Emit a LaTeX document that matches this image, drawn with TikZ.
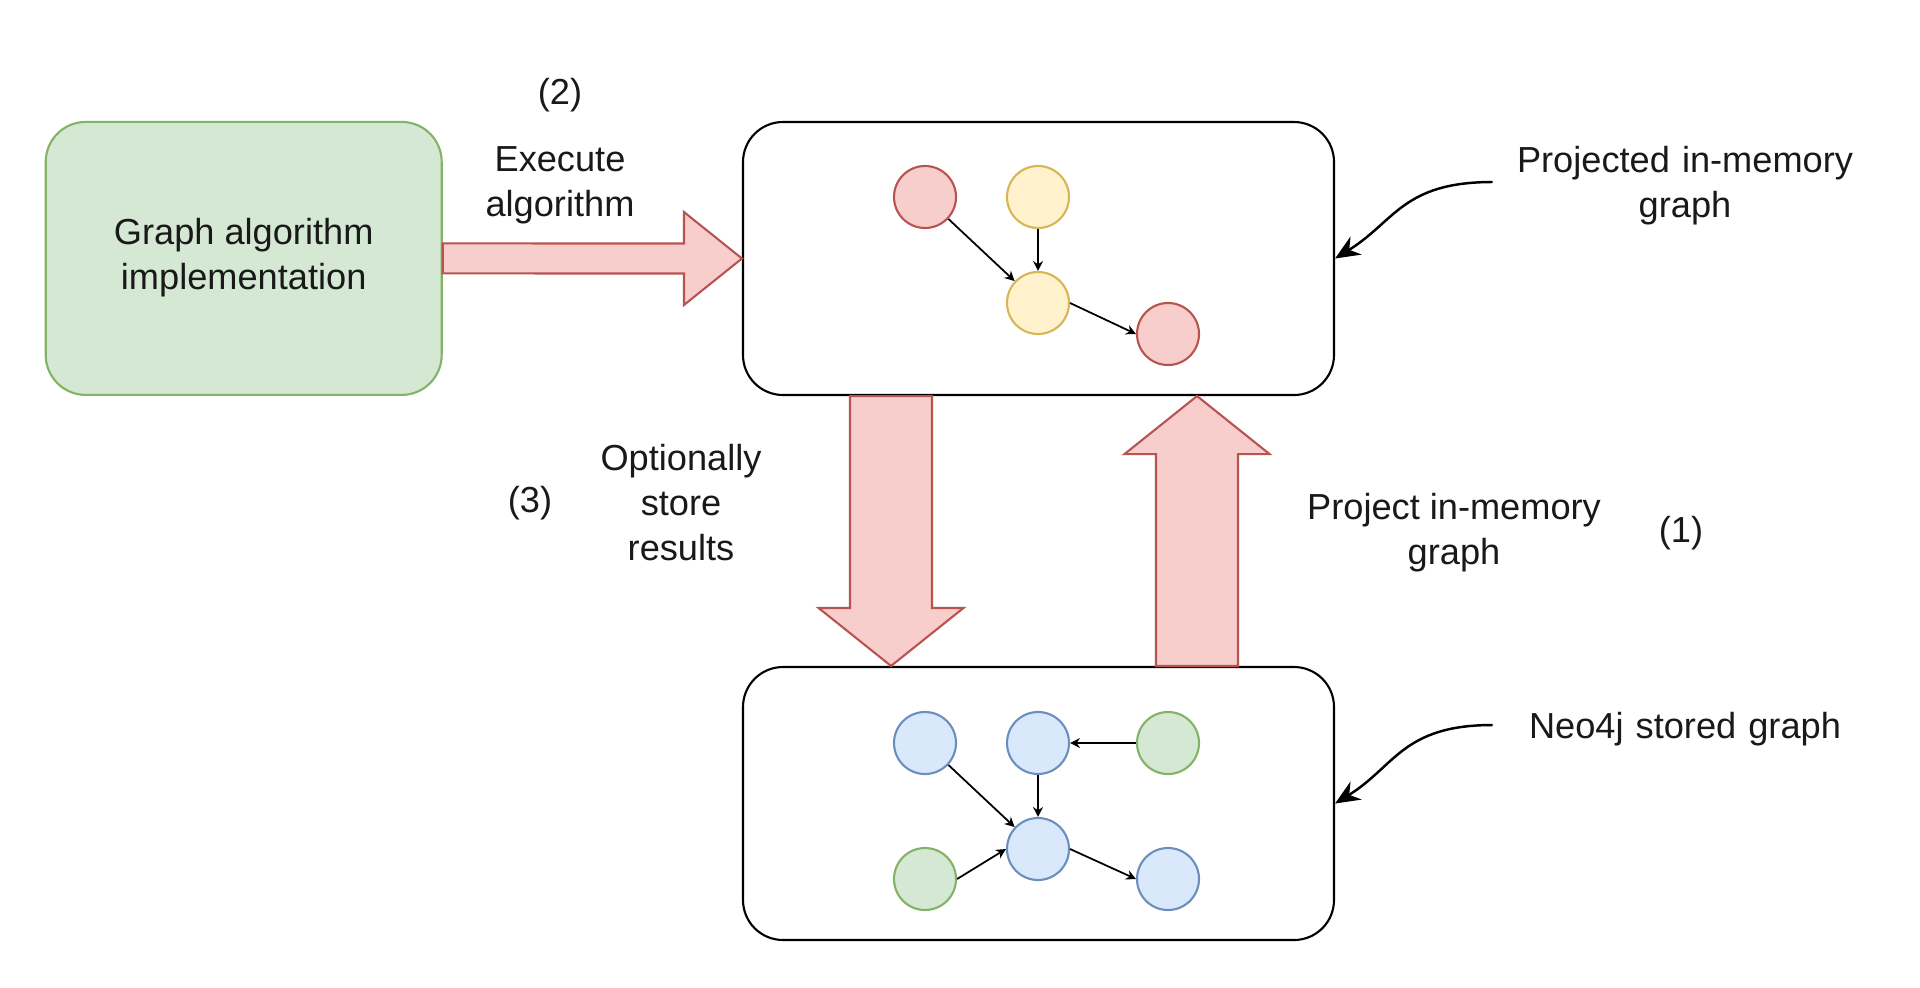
\documentclass[tikz,border=0pt]{standalone}
\usepackage{fontspec}
\setmainfont{Liberation Sans}
\usepackage{tikz}
\usetikzlibrary{positioning,arrows.meta,calc}
\definecolor{grfill}{HTML}{D5E8D4}
\definecolor{grline}{HTML}{82B366}
\definecolor{rdfill}{HTML}{F8CECC}
\definecolor{rdline}{HTML}{B85450}
\definecolor{ylfill}{HTML}{FFF2CC}
\definecolor{ylline}{HTML}{D6B656}
\definecolor{blfill}{HTML}{DAE8FC}
\definecolor{blline}{HTML}{6C8EBF}

\begin{document}
\begin{tikzpicture}[
  every node/.style={font=\fontsize{10.3}{12.8}\selectfont,align=center,text=black!90},
  box/.style={draw,rounded corners=4mm,line width=0.6pt,
              minimum width=5.91cm,minimum height=2.73cm},
  implbox/.style={box,draw=grline,fill=grfill,minimum width=3.96cm},
  vert/.style={circle,line width=0.6pt,minimum size=6.2mm,inner sep=0pt},
  redv/.style={vert,draw=rdline,fill=rdfill},
  yelv/.style={vert,draw=ylline,fill=ylfill},
  bluev/.style={vert,draw=blline,fill=blfill},
  grnv/.style={vert,draw=grline,fill=grfill},
  lnk/.style={-{Stealth[length=2.8pt,width=2.8pt]},line width=0.5pt},
  fat/.style={draw=rdline,fill=rdfill,line width=0.6pt,line join=miter},
  note/.style={-{Stealth[length=7pt,width=6pt]},line width=0.7pt},
  lbl/.style={text width=3.6cm}
]
\useasboundingbox (0,0) rectangle (19.2,-9.87);
\def\xa{9.25} \def\xb{10.38} \def\xc{11.68}     % columns of the small graphs

\node[implbox] (impl)  at (2.437,-2.584) {\raisebox{-0.4mm}{\begin{tabular}{@{}c@{}}Graph algorithm\\implementation\end{tabular}}};
\node[box]     (inmem) at (10.385,-2.585) {};
\node[box]     (neo)   at (10.385,-8.035) {};

% projected graph
\node[redv] (pa) at (\xa,-1.97) {};
\node[yelv] (pb) at (\xb,-1.97) {};
\node[yelv] (pc) at (\xb,-3.03) {};
\node[redv] (pd) at (\xc,-3.34) {};
\draw[lnk] (pa) -- (pc);
\draw[lnk] (pb) -- (pc);
\draw[lnk] (pc.east) -- (pd.west);

% stored graph
\node[bluev] (sa) at (\xa,-7.43) {};
\node[bluev] (sb) at (\xb,-7.43) {};
\node[grnv]  (sc) at (\xc,-7.43) {};
\node[grnv]  (sd) at (\xa,-8.79) {};
\node[bluev] (se) at (\xb,-8.49) {};
\node[bluev] (sf) at (\xc,-8.79) {};
\draw[lnk] (sa) -- (se);
\draw[lnk] (sb) -- (se);
\draw[lnk] (sc.west) -- (sb.east);
\draw[lnk] (sd.east) -- (se.west);
\draw[lnk] (se.east) -- (sf.west);

% big arrows
\draw[fat] ($(impl.east)+(0,0.15)$) -- ($(inmem.west)+(-0.58,0.15)$)
  -- ($(inmem.west)+(-0.58,0.465)$) -- (inmem.west)
  -- ($(inmem.west)+(-0.58,-0.465)$) -- ($(inmem.west)+(-0.58,-0.15)$)
  -- ($(impl.east)+(0,-0.15)$) -- cycle;
\coordinate (dtop) at (8.91,0 |- inmem.south);
\coordinate (dbot) at (8.91,0 |- neo.north);
\draw[fat] ($(dtop)+(-0.41,0)$) -- ($(dbot)+(-0.41,0.58)$)
  -- ($(dbot)+(-0.725,0.58)$) -- (dbot) -- ($(dbot)+(0.725,0.58)$)
  -- ($(dbot)+(0.41,0.58)$) -- ($(dtop)+(0.41,0)$) -- cycle;
\coordinate (ubot) at (11.97,0 |- neo.north);
\coordinate (utop) at (11.97,0 |- inmem.south);
\draw[fat] ($(ubot)+(-0.41,0)$) -- ($(utop)+(-0.41,-0.58)$)
  -- ($(utop)+(-0.725,-0.58)$) -- (utop) -- ($(utop)+(0.725,-0.58)$)
  -- ($(utop)+(0.41,-0.58)$) -- ($(ubot)+(0.41,0)$) -- cycle;

% labels
\node (numtwo)   at (5.60,-0.95) {(2)};
\node (exec)     at (5.60,-1.855) {Execute\\algorithm};
\node (numthree) at (5.30,-5.03) {(3)};
\node (store)    at (6.81,-5.03) {Optionally\\store\\results};
\node (proj)     at (14.54,-5.33) {Project in-memory\\graph};
\node (numone)   at (16.81,-5.33) {(1)};
\node[lbl] (projlbl) at (16.85,-1.86) {Projected in-memory\\graph};
\node[lbl] (neolbl)  at (16.85,-7.29) {Neo4j stored graph};

\draw[note] ([yshift=0.4mm]projlbl.west) .. controls +(-0.9,0) and +(0.6,0.37) .. (inmem.east);
\draw[note] ([yshift=0.4mm]neolbl.west) .. controls +(-0.9,0) and +(0.6,0.37) .. (neo.east);
\end{tikzpicture}
\end{document}
